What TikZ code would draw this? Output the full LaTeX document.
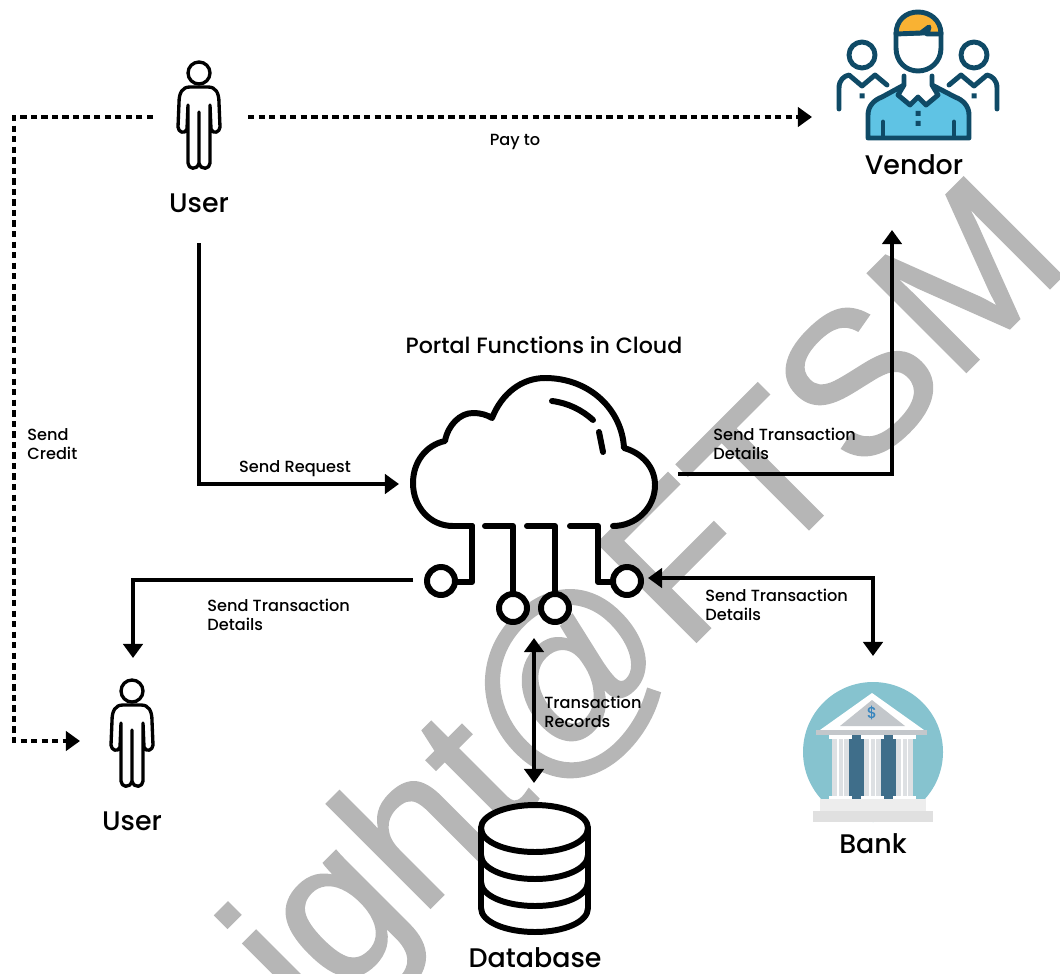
\documentclass[tikz,border=0pt]{standalone}
\usetikzlibrary{arrows.meta}
\usepackage{fontspec}
\setmainfont{Poppins Medium}
\newfontfamily\markfont[FakeBold=1.2]{Liberation Sans}
\usepackage[dvipsnames]{xcolor}
\definecolor{markgray}{HTML}{B6B6B6}
\definecolor{shirtblue}{HTML}{5FC3E4}
\definecolor{inkblue}{HTML}{0F4A66}
\definecolor{hairorange}{HTML}{F9B233}
\definecolor{bankteal}{HTML}{86C3CF}
\definecolor{bankdark}{HTML}{3F6E8A}
\definecolor{bankstone}{HTML}{DDE0E3}
\definecolor{bankroof}{HTML}{C3C7CB}
\definecolor{bankstep}{HTML}{EDEDED}
\definecolor{bankbase}{HTML}{E0E0E0}
\definecolor{dollarblue}{HTML}{3A86BE}
\tikzset{
    flow/.style={-{Triangle[length=8pt,width=11pt]},line width=2pt},
    flowboth/.style={{Triangle[length=8pt,width=11pt]}-{Triangle[length=8pt,width=11pt]},line width=2pt},
    dashflow/.style={flow,line width=1.8pt,dash pattern=on 3.6pt off 2.4pt},
    small label/.style={font=\fontsize{9.2pt}{10.8pt}\selectfont,align=left,inner sep=0pt},
    big label/.style={font=\fontsize{15.3pt}{17pt}\selectfont,inner sep=0pt},
    icon line/.style={line width=3.4pt,line cap=round,line join=round},
    pics/person/.style={code={
        \draw[line width=1.9pt,fill=white] (0,-44) circle (11);
        \draw[line width=1.9pt,fill=white,line join=round]
            (-9,-30) -- (9,-30) .. controls (17,-30) and (20,-24) .. (20,-14)
            -- (21,10) .. controls (21,15) and (14,18) .. (12,12) -- (11,-12)
            -- (11,46) .. controls (11,52) and (2,54) .. (0,46) -- (0,-5)
            -- (0,46) .. controls (-2,54) and (-11,52) .. (-11,46) -- (-11,-12)
            -- (-12,12) .. controls (-14,18) and (-21,15) .. (-21,10)
            -- (-20,-14) .. controls (-20,-24) and (-17,-30) .. (-9,-30) -- cycle;
    }}
}
\begin{document}
\begin{tikzpicture}[x=0.02cm,y=-0.02cm]
    \useasboundingbox (0,0) rectangle (1060,973);

    % watermark goes under everything
    \begin{scope}
        \clip (0,0) rectangle (1060,973);
        \node[text=markgray,font=\markfont\fontsize{115pt}{115pt}\selectfont,rotate=45,anchor=base east,inner sep=0pt] (mark) at (1074,264) {ight@FTSM};
    \end{scope}

    % actors
    \pic at (199,117) {person};
    \pic at (132,735) {person};
    \node[big label] (user a) at (199,203) {User};
    \node[big label] (user b) at (132,821) {User};
    \node[big label] (vendor) at (914,165) {Vendor};
    \node[big label] (bank) at (873,844) {Bank};
    \node[big label] (database) at (535,958) {Database};
    \node[font=\fontsize{12.6pt}{14pt}\selectfont,inner sep=0pt] (portal) at (544,345) {Portal Functions in Cloud};

    % vendor icon
    \begin{scope}[line width=2.8pt,draw=inkblue,line cap=round,line join=round]
        \draw[draw=inkblue,fill=white] (862,55) circle (13);
        \draw[draw=inkblue,fill=white] (974,55) circle (13);
        \draw[draw=inkblue] (839,109) -- (839,88) .. controls (839,80) and (844,76) .. (849,75) -- (862,86) -- (875,75) -- (887,85);
        \draw[draw=inkblue] (997,109) -- (997,88) .. controls (997,80) and (992,76) .. (987,75) -- (974,86) -- (961,75) -- (949,85);
        \fill[inkblue] (859.5,93.5) rectangle (864.5,98.5) (971.5,93.5) rectangle (976.5,98.5);
        \draw[fill=shirtblue] (868,138) -- (868,115) .. controls (868,106) and (874,100) .. (882,97) -- (904,85) -- (918,97) -- (932,85) -- (955,97) .. controls (963,100) and (969,106) .. (969,115) -- (969,138) -- cycle;
        \draw[fill=white] (904,76) -- (904,85) -- (898,95) -- (910,105) -- (918,97) -- (926,105) -- (938,95) -- (932,85) -- (932,76);
        \draw[fill=white] (896,33) -- (896,48) .. controls (896,62) and (906,71) .. (918,71) .. controls (930,71) and (941,62) .. (941,48) -- (941,33) -- cycle;
        \draw[fill=hairorange] (896,34) .. controls (896,20) and (906,12) .. (918,12) .. controls (930,12) and (941,20) .. (941,34) -- (927,34) -- (929,27) -- (921,33) -- cycle;
        \draw (883,122) -- (883,137) (954,122) -- (954,137);
        \fill[inkblue] (915.5,111) rectangle (920.5,116) (915.5,121) rectangle (920.5,126);
    \end{scope}

    % cloud
    \draw[icon line,fill=white] (472,526) -- (453,526) .. controls (430,526) and (413,507) .. (413,483)
        .. controls (413,462) and (426,445) .. (445,441) .. controls (448,425) and (460,413) .. (473,413)
        .. controls (481,413) and (487,415) .. (492,418) .. controls (502,393) and (522,378) .. (545,378)
        .. controls (590,378) and (622,410) .. (624,448) .. controls (642,453) and (655,467) .. (655,485)
        .. controls (655,508) and (636,526) .. (613,526);
    \draw[icon line] (552,401) .. controls (568,403) and (582,410) .. (593,420);
    \draw[icon line] (599,432) -- (603,452);
    \draw[icon line,fill=white] (441,581) circle (14);
    \draw[icon line,fill=white] (513,608) circle (14);
    \draw[icon line,fill=white] (555,608) circle (14);
    \draw[icon line,fill=white] (627,581) circle (14);
    \draw[icon line] (455,582) -- (472,582) -- (472,526);
    \draw[icon line] (485,526) -- (513,526) -- (513,594);
    \draw[icon line] (527,526) -- (555,526) -- (555,594);
    \draw[icon line] (570,526) -- (598,526) -- (598,582) -- (613,582);

    % bank icon
    \fill[bankteal] (873,752) circle (70);
    \fill[white] (872,693) -- (820,730) -- (924,730) -- cycle;
    \fill[bankroof] (872,700) -- (840,726) -- (905,726) -- cycle;
    \fill[bankroof] (816,730) rectangle (927,735);
    \foreach \colx in {849,881}
        \fill[bankdark] (\colx,735) rectangle (\colx+15,799);
    \foreach \colx in {832,864,896}{
        \fill[bankstone] (\colx,738) rectangle (\colx+17,797);
        \fill[white] (\colx+5,738) rectangle (\colx+6.5,797);
        \fill[white] (\colx+10.5,738) rectangle (\colx+12,797);
        \fill[white] (\colx-3,735) rectangle (\colx+20,739);
        \fill[white] (\colx-3,796) rectangle (\colx+20,799);
    }
    \fill[bankstep] (820,799) rectangle (926,811);
    \fill[bankbase] (813,811) rectangle (933,822);
    \node[text=dollarblue,font=\fontsize{9pt}{10pt}\selectfont,inner sep=0pt] (dollar) at (872,713) {\$};

    % database icon
    \draw[icon line,fill=white] (481,828) .. controls (481,815) and (506,805) .. (535,805) .. controls (564,805) and (588,815) .. (588,828)
        -- (588,908) .. controls (588,922) and (564,932) .. (535,932) .. controls (506,932) and (481,922) .. (481,908) -- cycle;
    \draw[icon line] (481,828) .. controls (481,842) and (506,852) .. (535,852) .. controls (564,852) and (588,842) .. (588,828);
    \draw[icon line] (481,855) .. controls (481,869) and (506,879) .. (535,879) .. controls (564,879) and (588,869) .. (588,855);
    \draw[icon line] (481,882) .. controls (481,896) and (506,906) .. (535,906) .. controls (564,906) and (588,896) .. (588,882);

    % connector ends
    \coordinate (user a left) at (153,117);
    \coordinate (user a right) at (248,117);
    \coordinate (user a foot) at (199,243);
    \coordinate (credit in) at (80,741);
    \coordinate (vendor left) at (812,117);
    \coordinate (vendor foot) at (892,230);
    \coordinate (cloud left) at (399,484);
    \coordinate (cloud right) at (678,474);
    \coordinate (pin a) at (413,580);
    \coordinate (pin b) at (534,638);
    \coordinate (pin d) at (648,578);
    \coordinate (user b top) at (133,658);
    \coordinate (bank top) at (873,656);
    \coordinate (database top) at (534,783);

    \draw[dashflow] (user a left) -- (14,117) -- (14,741) -- (credit in);
    \draw[dashflow] (user a right) -- (vendor left);
    \draw[flow] (user a foot) |- (cloud left);
    \draw[flow] (cloud right) -| (vendor foot);
    \draw[flow] (pin a) -| (user b top);
    \draw[flowboth] (pin d) -| (bank top);
    \draw[flowboth] (pin b) -- (database top);

    % labels
    \node[small label] (pay to) at (515,142) {Pay to};
    \node[small label,anchor=north west] (send credit) at (27,428) {Send\\Credit};
    \node[small label] (send request) at (295,469) {Send Request};
    \node[small label,anchor=north west] (details vendor) at (713,428) {Send Transaction\\Details};
    \node[small label,anchor=north west] (details user) at (207,599) {Send Transaction\\Details};
    \node[small label,anchor=north west] (details bank) at (705,589) {Send Transaction\\Details};
    \node[small label,anchor=north west] (records) at (544,696) {Transaction\\Records};
\end{tikzpicture}
\end{document}
